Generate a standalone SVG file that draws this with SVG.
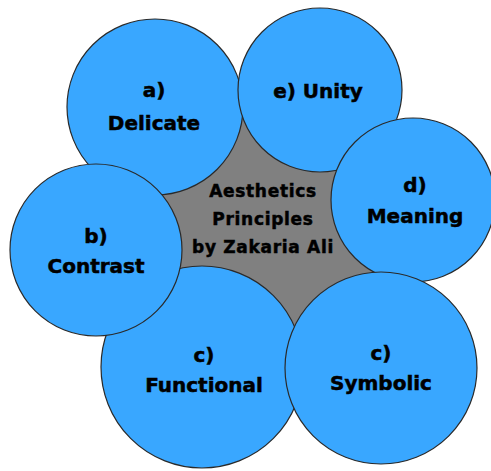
<svg xmlns="http://www.w3.org/2000/svg" width="491" height="471" viewBox="0 0 491 471">
  <style>
    .hub { fill: #808080; stroke: #333333; stroke-width: 1; }
    .petal { fill: #39a7ff; stroke: #2a2a2a; stroke-width: 1.2; }
    text { font-family: "DejaVu Sans", Verdana, sans-serif; font-weight: bold; fill: #000000; stroke: #000000; stroke-width: 0.5; text-anchor: middle; }
    .lbl { font-size: 20px; }
    .core { font-size: 17px; letter-spacing: 0.7px; }
  </style>
  <rect width="491" height="471" fill="#ffffff"/>

  <!-- central grey area, mostly covered by the circles -->
  <g id="center">
    <polygon class="hub" points="155,107 320,90 413,200 381,368 202,367 96,250"/>
    <text class="core" x="263" y="197">Aesthetics</text>
    <text class="core" x="263" y="225">Principles</text>
    <text class="core" x="263" y="253">by Zakaria Ali</text>
  </g>

  <g id="connectors"></g>

  <g id="delicate">
    <circle class="petal" cx="155" cy="107" r="88"/>
    <text class="lbl" x="154" y="97">a)</text>
    <text class="lbl" x="154" y="130">Delicate</text>
  </g>

  <g id="unity">
    <circle class="petal" cx="320" cy="90" r="82"/>
    <text class="lbl" x="318" y="98">e) Unity</text>
  </g>

  <g id="meaning">
    <circle class="petal" cx="413" cy="200" r="82"/>
    <text class="lbl" x="415" y="192">d)</text>
    <text class="lbl" x="415" y="223">Meaning</text>
  </g>

  <g id="functional">
    <circle class="petal" cx="202" cy="367" r="101"/>
    <text class="lbl" x="204" y="362">c)</text>
    <text class="lbl" x="204" y="392">Functional</text>
  </g>

  <g id="symbolic">
    <circle class="petal" cx="381" cy="368" r="96"/>
    <text class="lbl" x="381" y="360">c)</text>
    <text class="lbl" x="381" y="390">Symbolic</text>
  </g>

  <g id="contrast">
    <circle class="petal" cx="96" cy="250" r="86"/>
    <text class="lbl" x="96" y="243">b)</text>
    <text class="lbl" x="96" y="273">Contrast</text>
  </g>
</svg>
